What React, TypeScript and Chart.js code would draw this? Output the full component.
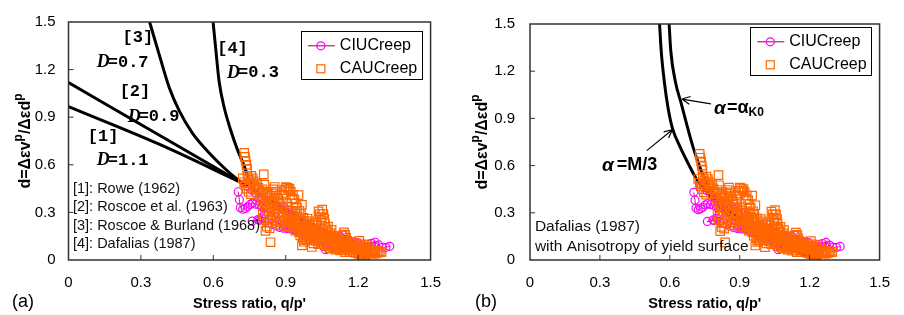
import React, { useEffect, useRef } from 'react';
import { Chart, registerables } from 'chart.js';

Chart.register(...registerables);

type P = [number, number];

const xTicks = [0, 0.3, 0.6, 0.9, 1.2, 1.5];
const yTicks = [0, 0.3, 0.6, 0.9, 1.2, 1.5];
const seriesNames = ['CIUCreep', 'CAUCreep'];
const xTitle = "Stress ratio, q/p'";

// CIU creep tests (circles joined by a thin line)
const ciuRun1: P[] = [
  [0.703, 0.43], [0.708, 0.38], [0.712, 0.33], [0.722, 0.32], [0.732, 0.325], [0.742, 0.335], [0.752, 0.35],
  [0.762, 0.358], [0.775, 0.352], [0.789, 0.348], [0.8, 0.335], [0.81, 0.325], [0.812, 0.29], [0.8, 0.265],
  [0.785, 0.255], [0.761, 0.245], [0.79, 0.25], [0.815, 0.245], [0.83, 0.235], [0.845, 0.225], [0.86, 0.215],
  [0.875, 0.205], [0.89, 0.2], [0.905, 0.198], [0.92, 0.195], [0.935, 0.19], [0.95, 0.185], [0.965, 0.18],
  [0.98, 0.176], [0.995, 0.17], [1.01, 0.165], [1.025, 0.16], [1.04, 0.15], [1.05, 0.12], [1.056, 0.085],
  [1.065, 0.065], [1.075, 0.07], [1.085, 0.1], [1.095, 0.12], [1.11, 0.14], [1.125, 0.15], [1.135, 0.16],
  [1.15, 0.13], [1.165, 0.12], [1.18, 0.115], [1.195, 0.11], [1.205, 0.07], [1.214, 0.02], [1.22, 0.01],
  [1.228, 0.06], [1.24, 0.1], [1.255, 0.105], [1.27, 0.112], [1.285, 0.095], [1.3, 0.08], [1.315, 0.08], [1.331, 0.086],
];
const ciuRun2: P[] = [
  [0.73, 0.48], [0.745, 0.46], [0.76, 0.44], [0.775, 0.42], [0.79, 0.4], [0.805, 0.385], [0.82, 0.37],
  [0.835, 0.36], [0.85, 0.35], [0.865, 0.34], [0.88, 0.33], [0.895, 0.315], [0.91, 0.3], [0.925, 0.285],
  [0.94, 0.27], [0.955, 0.255], [0.97, 0.24], [0.985, 0.225], [1.0, 0.21], [1.015, 0.2], [1.03, 0.19],
  [1.045, 0.18], [1.06, 0.17], [1.075, 0.16], [1.09, 0.15], [1.105, 0.14], [1.12, 0.13], [1.135, 0.12],
  [1.15, 0.11], [1.165, 0.105], [1.18, 0.1], [1.195, 0.095], [1.21, 0.09], [1.225, 0.085], [1.24, 0.08],
  [1.255, 0.085], [1.27, 0.09],
];
const ciuRun3: P[] = [
  [0.84, 0.3], [0.86, 0.27], [0.88, 0.25], [0.9, 0.23], [0.92, 0.21], [0.94, 0.19], [0.96, 0.17], [0.98, 0.155],
  [1.0, 0.14], [1.02, 0.13], [1.04, 0.12], [1.06, 0.11], [1.08, 0.1], [1.1, 0.09], [1.12, 0.085], [1.14, 0.08],
  [1.16, 0.075], [1.18, 0.07], [1.2, 0.065], [1.22, 0.06], [1.24, 0.055],
];
const ciuRuns = [ciuRun1, ciuRun2, ciuRun3];

// CAU creep tests (open squares)
const cauCreep: P[] = [
  [0.728, 0.675], [0.731, 0.65], [0.734, 0.625], [0.737, 0.6], [0.74, 0.575], [0.722, 0.515], [0.728, 0.49],
  [0.733, 0.47], [0.737, 0.45], [0.742, 0.53], [0.748, 0.505], [0.752, 0.485], [0.757, 0.53], [0.763, 0.515],
  [0.767, 0.495], [0.77, 0.47], [0.775, 0.45], [0.746, 0.43], [0.756, 0.415],
  [0.781, 0.48], [0.786, 0.455], [0.792, 0.435], [0.797, 0.42], [0.803, 0.445], [0.809, 0.54], [0.811, 0.475],
  [0.816, 0.41], [0.822, 0.395], [0.826, 0.43], [0.831, 0.375], [0.836, 0.405], [0.842, 0.42], [0.848, 0.445],
  [0.854, 0.46], [0.858, 0.43], [0.864, 0.405], [0.869, 0.385], [0.874, 0.36], [0.879, 0.34], [0.8, 0.39],
  [0.806, 0.37], [0.814, 0.35], [0.82, 0.33], [0.827, 0.31], [0.835, 0.33], [0.84, 0.35], [0.846, 0.375], [0.852, 0.39],
  [0.805, 0.29], [0.81, 0.255], [0.816, 0.184], [0.822, 0.21], [0.828, 0.235], [0.833, 0.2], [0.837, 0.112],
  [0.842, 0.265], [0.848, 0.285], [0.855, 0.3], [0.862, 0.32], [0.87, 0.295],
  [0.884, 0.37], [0.889, 0.41], [0.894, 0.44], [0.9, 0.46], [0.906, 0.455], [0.911, 0.44], [0.916, 0.45],
  [0.921, 0.43], [0.926, 0.388], [0.93, 0.41], [0.936, 0.38], [0.942, 0.355], [0.947, 0.33], [0.953, 0.409],
  [0.957, 0.31], [0.963, 0.29], [0.967, 0.348], [0.885, 0.3], [0.89, 0.275], [0.896, 0.25], [0.902, 0.28],
  [0.908, 0.26], [0.914, 0.235], [0.92, 0.255], [0.926, 0.23], [0.932, 0.27], [0.938, 0.245], [0.944, 0.22],
  [0.95, 0.2], [0.956, 0.24], [0.962, 0.215],
  [0.968, 0.19], [0.973, 0.265], [0.978, 0.24], [0.983, 0.215], [0.988, 0.195], [0.993, 0.175], [0.998, 0.225],
  [1.003, 0.205], [1.008, 0.185], [1.013, 0.165], [1.018, 0.2], [1.023, 0.18], [1.028, 0.16], [1.033, 0.145],
  [1.036, 0.307], [1.041, 0.29], [1.046, 0.27], [1.051, 0.317], [1.056, 0.29], [1.06, 0.26], [1.062, 0.23],
  [1.066, 0.2], [1.05, 0.245], [0.967, 0.092], [0.975, 0.115], [0.985, 0.13], [0.995, 0.145], [1.008, 0.082],
  [1.015, 0.105], [1.025, 0.12], [1.038, 0.13], [1.048, 0.11],
  [1.07, 0.18], [1.075, 0.16], [1.08, 0.145], [1.085, 0.17], [1.09, 0.155], [1.095, 0.135], [1.1, 0.12],
  [1.105, 0.15], [1.11, 0.135], [1.115, 0.115], [1.12, 0.13], [1.125, 0.11], [1.13, 0.1], [1.135, 0.155],
  [1.141, 0.174], [1.146, 0.16], [1.15, 0.14], [1.155, 0.12], [1.16, 0.105], [1.07, 0.1], [1.08, 0.085],
  [1.09, 0.095], [1.1, 0.08], [1.11, 0.07], [1.12, 0.085], [1.13, 0.075], [1.14, 0.065], [1.15, 0.08],
  [1.165, 0.09], [1.17, 0.115], [1.175, 0.1], [1.18, 0.085], [1.185, 0.07], [1.19, 0.105], [1.195, 0.09],
  [1.2, 0.075], [1.205, 0.12], [1.21, 0.1], [1.215, 0.08], [1.22, 0.065], [1.225, 0.095], [1.23, 0.075],
  [1.235, 0.06], [1.24, 0.045], [1.245, 0.08], [1.25, 0.065], [1.255, 0.05], [1.26, 0.04], [1.266, 0.06],
  [1.272, 0.05], [1.278, 0.045], [1.285, 0.055], [1.29, 0.05], [1.297, 0.051], [1.17, 0.06], [1.18, 0.05],
  [1.19, 0.045], [1.2, 0.04], [1.21, 0.035], [1.22, 0.03], [1.23, 0.035],
  [0.97, 0.215], [0.98, 0.2], [0.99, 0.185], [1.0, 0.19], [1.01, 0.175], [1.02, 0.17], [1.03, 0.175],
  [1.04, 0.16], [1.05, 0.15], [1.06, 0.14], [1.07, 0.135], [1.08, 0.12], [1.09, 0.125], [1.1, 0.105],
  [1.11, 0.1], [1.12, 0.105], [1.13, 0.09], [1.14, 0.085], [1.15, 0.095], [1.16, 0.085], [1.17, 0.08],
  [1.18, 0.075], [1.19, 0.07], [1.2, 0.06], [1.21, 0.055], [1.22, 0.05], [1.23, 0.05], [1.24, 0.065],
  [1.25, 0.045], [1.26, 0.055], [1.27, 0.04], [0.99, 0.155], [1.0, 0.125], [1.02, 0.14], [1.035, 0.1],
  [1.055, 0.125], [1.065, 0.09], [1.085, 0.075], [1.105, 0.065], [1.125, 0.06], [1.145, 0.05], [1.165, 0.05],
  [0.86, 0.25], [0.87, 0.27], [0.875, 0.24], [0.88, 0.22], [0.9, 0.21], [0.91, 0.215], [0.93, 0.205],
  [0.94, 0.185], [0.955, 0.175], [0.96, 0.155], [0.97, 0.14], [0.98, 0.125], [0.89, 0.33], [0.905, 0.315],
  [0.915, 0.3], [0.925, 0.31], [0.94, 0.29], [0.95, 0.27], [0.96, 0.25], [0.99, 0.26], [1.0, 0.245],
  [1.01, 0.225], [1.02, 0.235], [1.03, 0.22], [1.045, 0.2], [1.075, 0.21], [1.09, 0.19],
];

// Panel (a) stress-dilatancy model curves
const roweD11: P[] = [[0, 0.967], [0.38, 0.727], [0.713, 0.49]];
const roscoeD09: P[] = [[0, 1.118], [0.713, 0.49]];
const roscoeBurlandD07: P[] = [
  [0.336, 1.5], [0.377, 1.288], [0.418, 1.084], [0.459, 0.94], [0.514, 0.798], [0.583, 0.675], [0.651, 0.572], [0.713, 0.49],
];
const dafaliasD03: P[] = [
  [0.599, 1.5], [0.61, 1.33], [0.624, 1.125], [0.645, 0.961], [0.672, 0.818], [0.7, 0.695], [0.727, 0.595], [0.75, 0.5], [0.78, 0.43],
];
const commonTail: P[] = [[0.713, 0.49], [0.8, 0.41], [0.9, 0.318], [1.0, 0.228], [1.1, 0.138], [1.245, 0]];

// Panel (b) Dafalias (1987) with anisotropy
const alphaM3: P[] = [
  [0.556, 1.5], [0.563, 1.33], [0.577, 1.125], [0.593, 0.961], [0.611, 0.838], [0.645, 0.716], [0.679, 0.613],
  [0.714, 0.515], [0.76, 0.43], [0.82, 0.33], [0.9, 0.23], [1.0, 0.145], [1.1, 0.075], [1.245, 0],
];
const alphaK0: P[] = [
  [0.597, 1.5], [0.604, 1.33], [0.625, 1.125], [0.648, 1.0], [0.673, 0.859], [0.7, 0.716], [0.728, 0.593],
  [0.762, 0.47], [0.82, 0.36], [0.9, 0.26], [1.0, 0.165], [1.1, 0.09], [1.245, 0],
];

// Annotation texts (anchored in data coordinates)
const modelTags = ['[1]', '[2]', '[3]', '[4]'];
const modelTagPos: P[] = [[0.08, 0.779], [0.212, 1.061], [0.224, 1.399], [0.616, 1.331]];
const modelD = ['1.1', '0.9', '0.7', '0.3'];
const modelDPos: P[] = [[0.117, 0.626], [0.245, 0.902], [0.117, 1.245], [0.657, 1.178]];
const refNames = ['[1]: Rowe (1962)', '[2]: Roscoe et al. (1963)', '[3]: Roscoe & Burland (1968)', '[4]: Dafalias (1987)'];
const refPos: P[] = [[0.0185, 0.448], [0.0185, 0.331], [0.0185, 0.215], [0.0185, 0.098]];
const noteB = ['Dafalias (1987)', 'with Anisotropy of yield surface'];
const noteBPos: P[] = [[0.021, 0.209], [0.021, 0.086]];

const SANS = '"Liberation Sans", Arial, sans-serif';
const MONO = '"Liberation Mono", "DejaVu Sans Mono", monospace';
const MAGENTA = '#FF00FF';
const ORANGE = '#FF6600';
const CIU_LINE = '#990033';

const toXY = (pts: P[]) => pts.map(([x, y]) => ({ x, y }));
const fmt = (v: number) => (v === 0 ? '0' : v.toFixed(1));

function drawYTitle(ctx: CanvasRenderingContext2D, cx: number, cy: number) {
  const main = `bold 16px ${SANS}`;
  const sup = `bold 12px ${SANS}`;
  const parts: [string, boolean][] = [['d=Δεv', false], ['p', true], ['/Δεd', false], ['p', true]];
  ctx.save();
  ctx.translate(cx, cy);
  ctx.rotate(-Math.PI / 2);
  let total = 0;
  for (const [t, s] of parts) {
    ctx.font = s ? sup : main;
    total += ctx.measureText(t).width;
  }
  let x = -total / 2;
  ctx.textBaseline = 'alphabetic';
  ctx.textAlign = 'left';
  ctx.fillStyle = '#000';
  for (const [t, s] of parts) {
    ctx.font = s ? sup : main;
    ctx.fillText(t, x, s ? -2 : 6);
    x += ctx.measureText(t).width;
  }
  ctx.restore();
}

function drawLegend(ctx: CanvasRenderingContext2D, left: number, top: number) {
  ctx.save();
  ctx.strokeStyle = '#000';
  ctx.lineWidth = 1;
  ctx.strokeRect(Math.round(left) + 0.5, Math.round(top) + 0.5, 121, 48);
  const r1 = top + 14.5;
  const r2 = top + 37.5;
  ctx.strokeStyle = CIU_LINE;
  ctx.beginPath();
  ctx.moveTo(left + 7, r1);
  ctx.lineTo(left + 34, r1);
  ctx.stroke();
  ctx.strokeStyle = MAGENTA;
  ctx.lineWidth = 1.2;
  ctx.beginPath();
  ctx.arc(left + 20, r1, 4, 0, Math.PI * 2);
  ctx.stroke();
  ctx.strokeStyle = ORANGE;
  ctx.strokeRect(left + 16, r2 - 4, 8, 8);
  ctx.fillStyle = '#000';
  ctx.font = `16px ${SANS}`;
  ctx.textBaseline = 'middle';
  ctx.textAlign = 'left';
  ctx.fillText(seriesNames[0], left + 39, r1);
  ctx.fillText(seriesNames[1], left + 39, r2);
  ctx.restore();
}

function arrow(ctx: CanvasRenderingContext2D, x0: number, y0: number, x1: number, y1: number) {
  const ang = Math.atan2(y1 - y0, x1 - x0);
  ctx.save();
  ctx.strokeStyle = '#000';
  ctx.lineWidth = 1.2;
  ctx.beginPath();
  ctx.moveTo(x0, y0);
  ctx.lineTo(x1, y1);
  for (const s of [-1, 1]) {
    ctx.moveTo(x1, y1);
    ctx.lineTo(x1 - 9 * Math.cos(ang + s * 0.45), y1 - 9 * Math.sin(ang + s * 0.45));
  }
  ctx.stroke();
  ctx.restore();
}

interface PanelSpec {
  width: number;
  plotLeft: number;
  plotRight: number;
  plotTop: number;
  plotBottom: number;
  yLabelPad: number;
  yTitleX: number;
  panelLabel: string;
  panelLabelX: number;
  legendRightGap: number;
  legendTopGap: number;
  curves: P[][];
  decorate: (ctx: CanvasRenderingContext2D, px: (v: number) => number, py: (v: number) => number) => void;
}

const decorateA = (ctx: CanvasRenderingContext2D, px: (v: number) => number, py: (v: number) => number) => {
  ctx.save();
  ctx.fillStyle = '#000';
  ctx.textBaseline = 'middle';
  ctx.textAlign = 'left';
  modelTags.forEach((t, i) => {
    ctx.font = `bold 17px ${MONO}`;
    ctx.fillText(t, px(modelTagPos[i][0]), py(modelTagPos[i][1]));
  });
  modelD.forEach((v, i) => {
    const x = px(modelDPos[i][0]);
    const y = py(modelDPos[i][1]);
    ctx.font = `bold italic 18px "Liberation Serif", serif`;
    ctx.fillText('D', x, y);
    ctx.font = `bold 17px ${MONO}`;
    ctx.fillText('=' + v, x + 11, y);
  });
  ctx.font = `14.5px ${SANS}`;
  ctx.fillStyle = '#111';
  refNames.forEach((t, i) => ctx.fillText(t, px(refPos[i][0]), py(refPos[i][1])));
  ctx.restore();
};

const decorateB = (ctx: CanvasRenderingContext2D, px: (v: number) => number, py: (v: number) => number) => {
  ctx.save();
  ctx.fillStyle = '#111';
  ctx.textBaseline = 'middle';
  ctx.textAlign = 'left';
  ctx.font = `15.5px ${SANS}`;
  noteB.forEach((t, i) => ctx.fillText(t, px(noteBPos[i][0]), py(noteBPos[i][1])));
  ctx.fillStyle = '#000';
  // alpha = alpha_K0
  let x = px(0.79);
  let y = py(0.963);
  ctx.font = `bold italic 19px ${SANS}`;
  ctx.fillText('α', x, y);
  x += ctx.measureText('α').width + 1;
  ctx.font = `bold 18px ${SANS}`;
  ctx.fillText('=', x, y);
  x += ctx.measureText('=').width;
  ctx.fillText('α', x, y);
  x += ctx.measureText('α').width;
  ctx.font = `bold 12px ${SANS}`;
  ctx.fillText('K0', x, y + 4);
  // alpha = M/3
  x = px(0.309);
  y = py(0.601);
  ctx.font = `bold italic 19px ${SANS}`;
  ctx.fillText('α', x, y);
  x += ctx.measureText('α').width + 3;
  ctx.font = `bold 18px ${SANS}`;
  ctx.fillText('=M/3', x, y);
  arrow(ctx, px(0.776), py(0.992), px(0.652), py(1.023));
  arrow(ctx, px(0.501), py(0.695), px(0.611), py(0.828));
  ctx.restore();
};

const panelA: PanelSpec = {
  width: 455, plotLeft: 68.5, plotRight: 432.7, plotTop: 15.7, plotBottom: 260, yLabelPad: 13,
  yTitleX: 24, panelLabel: '(a)', panelLabelX: 12, legendRightGap: 8.7, legendTopGap: 9.3,
  curves: [roweD11, roscoeD09, roscoeBurlandD07, dafaliasD03, commonTail],
  decorate: decorateA,
};
const panelB: PanelSpec = {
  width: 449, plotLeft: 75, plotRight: 439.3, plotTop: 15.7, plotBottom: 260, yLabelPad: 15,
  yTitleX: 26, panelLabel: '(b)', panelLabelX: 20, legendRightGap: 8.3, legendTopGap: 3.3,
  curves: [alphaM3, alphaK0],
  decorate: decorateB,
};

const HEIGHT = 315;

function buildChart(canvas: HTMLCanvasElement, spec: PanelSpec) {
  const datasets: any[] = [
    {
      label: seriesNames[1], data: toXY(cauCreep), showLine: false, pointStyle: 'rect', pointRadius: 6,
      pointBorderColor: ORANGE, pointBackgroundColor: 'rgba(0,0,0,0)', pointBorderWidth: 1.2, order: 0,
    },
    ...ciuRuns.map((run) => ({
      label: seriesNames[0], data: toXY(run), showLine: true, borderColor: CIU_LINE, borderWidth: 0.8,
      pointStyle: 'circle', pointRadius: 4, pointBorderColor: MAGENTA, pointBackgroundColor: 'rgba(0,0,0,0)',
      pointBorderWidth: 1.2, order: 1,
    })),
    ...spec.curves.map((c) => ({
      data: toXY(c), showLine: true, borderColor: '#000', borderWidth: 3, pointRadius: 0,
      cubicInterpolationMode: 'monotone', order: 2,
    })),
  ];

  const deco = {
    id: 'deco' + spec.panelLabel,
    afterDatasetsDraw(chart: any) {
      const { ctx, chartArea: a, scales } = chart;
      ctx.save();
      ctx.strokeStyle = '#333';
      ctx.lineWidth = 1.5;
      ctx.strokeRect(a.left, a.top, a.right - a.left, a.bottom - a.top);
      ctx.lineWidth = 1;
      ctx.beginPath();
      for (const v of xTicks.slice(1, -1)) {
        const p = scales.x.getPixelForValue(v);
        ctx.moveTo(p, a.bottom);
        ctx.lineTo(p, a.bottom - 5);
      }
      for (const v of yTicks.slice(1, -1)) {
        const p = scales.y.getPixelForValue(v);
        ctx.moveTo(a.left, p);
        ctx.lineTo(a.left + 5, p);
      }
      ctx.stroke();
      ctx.restore();
    },
    afterDraw(chart: any) {
      const { ctx, chartArea: a, scales } = chart;
      const px = (v: number) => scales.x.getPixelForValue(v);
      const py = (v: number) => scales.y.getPixelForValue(v);
      spec.decorate(ctx, px, py);
      drawLegend(ctx, a.right - spec.legendRightGap - 121, a.top + spec.legendTopGap);
      ctx.save();
      ctx.fillStyle = '#000';
      ctx.textBaseline = 'middle';
      ctx.textAlign = 'center';
      ctx.font = `bold 14.5px ${SANS}`;
      ctx.fillText(xTitle, (a.left + a.right) / 2, 304);
      ctx.textAlign = 'left';
      ctx.font = `18px ${SANS}`;
      ctx.fillText(spec.panelLabel, spec.panelLabelX, 302);
      ctx.restore();
      drawYTitle(ctx, spec.yTitleX, (a.top + a.bottom) / 2);
    },
  };

  const tickFont = { family: SANS, size: 15 };
  return new Chart(canvas, {
    type: 'scatter',
    data: { datasets },
    options: {
      animation: false,
      responsive: false,
      devicePixelRatio: 1,
      layout: { padding: { left: 0, top: spec.plotTop, right: spec.width - spec.plotRight, bottom: 0 } },
      plugins: { legend: { display: false }, tooltip: { enabled: false } },
      scales: {
        x: {
          type: 'linear', min: 0, max: 1.5,
          afterBuildTicks: (s: any) => { s.ticks = xTicks.map((value) => ({ value })); },
          afterFit: (s: any) => { s.height = HEIGHT - spec.plotBottom; },
          grid: { display: false, drawTicks: false },
          border: { display: false },
          ticks: { padding: 14, font: tickFont, color: '#000', maxRotation: 0, autoSkip: false, callback: (v: any) => fmt(Number(v)) },
        },
        y: {
          type: 'linear', min: 0, max: 1.5,
          afterBuildTicks: (s: any) => { s.ticks = yTicks.map((value) => ({ value })); },
          afterFit: (s: any) => { s.width = spec.plotLeft; },
          grid: { display: false, drawTicks: false },
          border: { display: false },
          ticks: { padding: spec.yLabelPad, font: tickFont, color: '#000', autoSkip: false, callback: (v: any) => fmt(Number(v)) },
        },
      },
    } as any,
    plugins: [deco],
  });
}

export default function App() {
  const refA = useRef<HTMLCanvasElement>(null);
  const refB = useRef<HTMLCanvasElement>(null);
  useEffect(() => {
    const ca = buildChart(refA.current!, panelA);
    const cb = buildChart(refB.current!, panelB);
    return () => {
      ca.destroy();
      cb.destroy();
    };
  }, []);
  return (
    <div style={{ position: 'absolute', left: 0, top: 0, width: 904, height: HEIGHT, background: '#fff' }}>
      <canvas ref={refA} width={panelA.width} height={HEIGHT} style={{ position: 'absolute', left: 0, top: 0, width: panelA.width, height: HEIGHT }} />
      <canvas ref={refB} width={panelB.width} height={HEIGHT} style={{ position: 'absolute', left: 455, top: 0, width: panelB.width, height: HEIGHT }} />
    </div>
  );
}
